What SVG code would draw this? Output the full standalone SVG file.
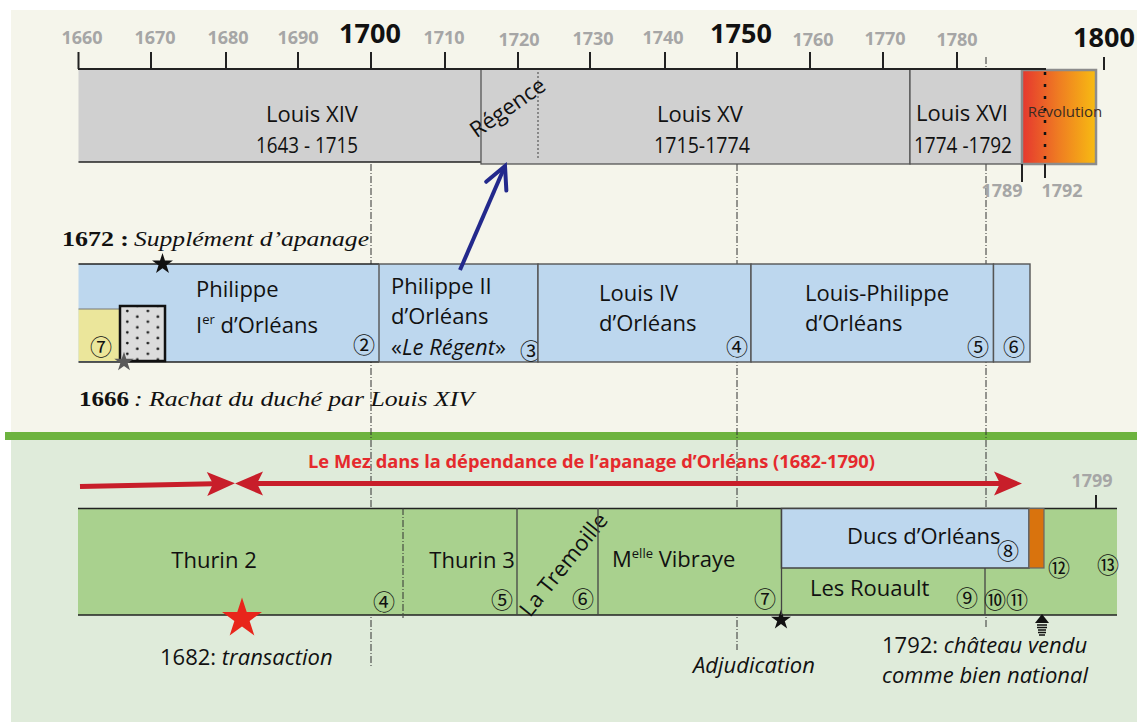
<svg xmlns="http://www.w3.org/2000/svg" width="1137" height="722" viewBox="0 0 1137 722">
<defs>
<style>
.yr{font-family:'Open Sans','Liberation Sans',sans-serif;font-weight:700;font-size:18px;fill:#a6a6a6;text-anchor:middle}
.yb{font-family:'Open Sans','Liberation Sans',sans-serif;font-weight:700;font-size:27px;fill:#111;text-anchor:middle}
.lb{font-family:'Open Sans','Liberation Sans',sans-serif;font-size:22px;fill:#111}
.c{text-anchor:middle}
.it{font-style:italic}
.num{font-family:'Noto Sans CJK JP','DejaVu Sans',sans-serif;font-size:22px;fill:#111;text-anchor:middle}
.serif{font-family:'Liberation Serif','Times New Roman',serif;font-size:22px;fill:#111}
.tick{stroke:#222;stroke-width:2}
.dd{stroke:#333;stroke-width:1;stroke-dasharray:7 2 1 2;fill:none}
.blue{fill:#bdd7ee;stroke:#555;stroke-width:1.4}
.gray{fill:#d0d0d0;stroke:#555;stroke-width:1.3}
.edge{stroke:#222;stroke-width:1.6}
.sep{stroke:#444;stroke-width:1.3}
.red{stroke:#c81e2a;stroke-width:5;fill:none}
</style>
<linearGradient id="rev" x1="0" y1="0" x2="1" y2="0">
<stop offset="0" stop-color="#e5372f"/><stop offset="0.5" stop-color="#ef7d22"/><stop offset="1" stop-color="#f7bc12"/>
</linearGradient>
<pattern id="dots" patternUnits="userSpaceOnUse" x="122" y="308" width="20.6" height="10.7">
<rect width="20.6" height="10.7" fill="#dcdcdc"/>
<circle cx="5.3" cy="3" r="1.3" fill="#111"/><circle cx="15.3" cy="8.7" r="1.3" fill="#111"/>
</pattern>
<path id="star" d="M0,-10 L2.245,-3.09 L9.511,-3.09 L3.633,1.18 L5.878,8.09 L0,3.82 L-5.878,8.09 L-3.633,1.18 L-9.511,-3.09 L-2.245,-3.09 Z"/>
<marker id="rh" markerUnits="userSpaceOnUse" viewBox="0 0 28 24" refX="6" refY="12" markerWidth="28" markerHeight="24" orient="auto-start-reverse" overflow="visible"><path d="M0,0 L28,12 L0,24 L6,12 Z" fill="#c81e2a"/></marker>
<marker id="bh" markerUnits="userSpaceOnUse" viewBox="0 0 30 30" refX="26" refY="15" markerWidth="30" markerHeight="30" orient="auto" overflow="visible"><path d="M4,4 L26,15 L4,26" fill="none" stroke="#23298c" stroke-width="4" stroke-linecap="round"/></marker>
</defs>

<g id="background">
<rect x="0" y="0" width="1137" height="722" fill="#ffffff"/>
<rect x="11" y="10" width="1126" height="424" fill="#f5f5eb"/>
<rect x="11" y="438" width="1126" height="284" fill="#dfebda"/>
<rect x="5" y="432" width="1132" height="8" fill="#6db33f"/>
</g>

<g id="guides">
<line x1="371" y1="164" x2="371" y2="667" class="dd"/>
<line x1="737" y1="164" x2="737" y2="650" class="dd"/>
<line x1="986" y1="57" x2="986" y2="69" class="dd"/>
<line x1="986" y1="164" x2="986" y2="628" class="dd"/>
</g>

<g id="reign-louis14">
<rect x="78.5" y="69" width="402.5" height="93" fill="#d0d0d0"/>
<line x1="78.5" y1="162" x2="481" y2="162" class="edge"/>
<text class="lb c" x="312" y="122">Louis XIV</text>
<text class="lb c" x="307" y="153" textLength="102" lengthAdjust="spacingAndGlyphs">1643 - 1715</text>
</g>
<g id="reign-louis15">
<rect x="481" y="69" width="429" height="95" class="gray"/>
<line x1="538" y1="72" x2="538" y2="160" stroke="#888" stroke-width="2" stroke-dasharray="2 2"/>
<text class="lb c" transform="translate(508,108) rotate(-35)" x="0" y="7">Régence</text>
<text class="lb c" x="700" y="122">Louis XV</text>
<text class="lb c" x="702" y="153" textLength="96" lengthAdjust="spacingAndGlyphs">1715-1774</text>
</g>
<g id="reign-louis16">
<rect x="910" y="69" width="112" height="95" class="gray"/>
<text class="lb c" x="962" y="121">Louis XVI</text>
<text class="lb c" x="963" y="153" textLength="98" lengthAdjust="spacingAndGlyphs">1774 -1792</text>
</g>
<g id="revolution">
<rect x="1022" y="70" width="74" height="94" fill="url(#rev)" stroke="#8c8c8c" stroke-width="2.5"/>
<line x1="1045" y1="72" x2="1045" y2="160" stroke="#111" stroke-width="2.5" stroke-dasharray="3 9"/>
<text x="1065" y="117" font-family="'Open Sans','Liberation Sans',sans-serif" font-size="15" fill="#3b2b22" text-anchor="middle">Révolution</text>
<line x1="1022" y1="164" x2="1022" y2="182" class="tick"/>
<line x1="1045" y1="164" x2="1045" y2="178" class="tick"/>
<text class="yr" x="1002" y="197" font-size="17">1789</text>
<text class="yr" x="1062" y="197" font-size="17">1792</text>
</g>

<g id="axis">
<line x1="78" y1="69" x2="1046" y2="69" stroke="#222" stroke-width="2"/>
<line x1="78.5" y1="52" x2="78.5" y2="69" class="tick"/>
<line x1="151" y1="52" x2="151" y2="69" class="tick"/>
<line x1="226" y1="52" x2="226" y2="69" class="tick"/>
<line x1="298" y1="52" x2="298" y2="69" class="tick"/>
<line x1="371" y1="52" x2="371" y2="69" class="tick"/>
<line x1="445" y1="52" x2="445" y2="69" class="tick"/>
<line x1="518" y1="52" x2="518" y2="69" class="tick"/>
<line x1="590" y1="52" x2="590" y2="69" class="tick"/>
<line x1="665" y1="52" x2="665" y2="69" class="tick"/>
<line x1="737" y1="52" x2="737" y2="69" class="tick"/>
<line x1="810" y1="52" x2="810" y2="69" class="tick"/>
<line x1="883" y1="52" x2="883" y2="69" class="tick"/>
<line x1="957" y1="52" x2="957" y2="69" class="tick"/>
<line x1="1104" y1="57" x2="1104" y2="70" class="tick"/>
<text class="yr" x="82" y="44">1660</text>
<text class="yr" x="155" y="44">1670</text>
<text class="yr" x="228" y="44">1680</text>
<text class="yr" x="298" y="44">1690</text>
<text class="yb" x="370" y="43">1700</text>
<text class="yr" x="444" y="44">1710</text>
<text class="yr" x="519" y="46">1720</text>
<text class="yr" x="593" y="45">1730</text>
<text class="yr" x="663" y="44">1740</text>
<text class="yb" x="741" y="43">1750</text>
<text class="yr" x="813" y="46">1760</text>
<text class="yr" x="885" y="45">1770</text>
<text class="yr" x="957" y="46">1780</text>
<text class="yb" x="1104" y="47">1800</text>
</g>

<g id="note-1672">
<text class="serif" x="62" y="246" font-weight="700" textLength="67" lengthAdjust="spacingAndGlyphs">1672 :</text>
<text class="serif it" x="134" y="246" textLength="235" lengthAdjust="spacingAndGlyphs">Supplément d’apanage</text>
</g>
<g id="note-1666">
<text class="serif" x="79" y="406" font-weight="700" textLength="50" lengthAdjust="spacingAndGlyphs">1666</text>
<text class="serif it" x="134" y="406" textLength="340" lengthAdjust="spacingAndGlyphs">: Rachat du duché par Louis XIV</text>
</g>

<g id="duc-philippe1">
<rect x="78.5" y="264" width="300.5" height="98" fill="#bdd7ee"/>
<line x1="78.5" y1="264" x2="379" y2="264" class="edge"/>
<line x1="78.5" y1="362" x2="379" y2="362" class="edge"/>
<rect x="78.5" y="309" width="41.5" height="52" fill="#ebe69b"/>
<line x1="78.5" y1="309" x2="120" y2="309" stroke="#777" stroke-width="1"/>
<rect x="120" y="306" width="45" height="55" fill="url(#dots)" stroke="#111" stroke-width="2.5"/>
<text class="num" x="101" y="354.5">⑦</text>
<text class="lb" x="196" y="297">Philippe</text>
<text class="lb" x="196" y="333">I<tspan font-size="13" dy="-9">er</tspan><tspan dy="9"> d’Orléans</tspan></text>
<text class="num" x="364" y="352.5">②</text>
<use href="#star" transform="translate(162.5,264) scale(1.1)" fill="#111"/>
<use href="#star" transform="translate(124,362) scale(1.02)" fill="#5a5a5a"/>
</g>
<g id="duc-philippe2">
<rect x="379" y="264" width="159" height="98" class="blue"/>
<text class="lb" x="391" y="294">Philippe II</text>
<text class="lb" x="391" y="324">d’Orléans</text>
<text class="lb" x="391" y="355">«<tspan class="it">Le Régent</tspan>»</text>
<text class="num" x="531" y="358.5">③</text>
</g>
<g id="duc-louis4">
<rect x="538" y="264" width="213" height="98" class="blue"/>
<text class="lb" x="599" y="301">Louis IV</text>
<text class="lb" x="599" y="331">d’Orléans</text>
<text class="num" x="737" y="354.5">④</text>
</g>
<g id="duc-louisphilippe">
<rect x="751" y="264" width="242.5" height="98" class="blue"/>
<text class="lb" x="805" y="301">Louis-Philippe</text>
<text class="lb" x="805" y="331">d’Orléans</text>
<text class="num" x="978" y="354.5">⑤</text>
</g>
<g id="duc-6">
<rect x="993.5" y="264" width="36.5" height="98" class="blue"/>
<text class="num" x="1014" y="354.5">⑥</text>
</g>

<g id="connectors">
<line x1="460" y1="270" x2="505" y2="166" stroke="#23298c" stroke-width="4" marker-end="url(#bh)"/>
<path d="M80,486.5 L213,483.8" class="red" marker-end="url(#rh)"/>
<path d="M257,483.5 L1000,483.5" class="red" marker-start="url(#rh)" marker-end="url(#rh)"/>
</g>

<g id="title-apanage">
<text x="308" y="468" font-family="'Open Sans','Liberation Sans',sans-serif" font-weight="700" font-size="18" fill="#e52a2d" textLength="567" lengthAdjust="spacingAndGlyphs">Le Mez dans la dépendance de l’apanage d’Orléans  (1682-1790)</text>
</g>

<g id="owners-bar">
<rect x="78" y="508" width="1039" height="107" fill="#a9d18e"/>
<line x1="78" y1="508.5" x2="1117" y2="508.5" class="edge"/>
<line x1="78" y1="615" x2="1117" y2="615" class="edge"/>
<line x1="1096" y1="495" x2="1096" y2="508" class="tick"/>
<text class="yr" x="1092" y="487">1799</text>
</g>
<g id="owner-thurin2">
<text class="lb c" x="214" y="568">Thurin 2</text>
<text class="num" x="384" y="609.5">④</text>
<use href="#star" transform="translate(242,618.5) scale(2.1)" fill="#e8251b"/>
<text class="lb" x="160" y="665">1682: <tspan class="it">transaction</tspan></text>
</g>
<g id="owner-thurin3">
<line x1="403" y1="508" x2="403" y2="618" class="dd" stroke="#222"/>
<text class="lb c" x="472" y="568">Thurin 3</text>
<text class="num" x="502" y="607.5">⑤</text>
</g>
<g id="owner-tremoille">
<line x1="517" y1="508" x2="517" y2="615" class="sep"/>
<text class="lb c" transform="translate(564,565) rotate(-51)" x="0" y="7">La Tremoille</text>
<text class="num" x="583" y="606.5">⑥</text>
</g>
<g id="owner-vibraye">
<line x1="598" y1="508" x2="598" y2="615" class="sep"/>
<text class="lb" x="612" y="567">M<tspan font-size="13" dy="-9">elle</tspan><tspan dy="9"> Vibraye</tspan></text>
<text class="num" x="765" y="607">⑦</text>
<use href="#star" transform="translate(781,620) scale(1.05)" fill="#111"/>
<text class="lb it" x="693" y="673">Adjudication</text>
</g>
<g id="owner-ducs">
<line x1="781.5" y1="508" x2="781.5" y2="615" class="sep"/>
<rect x="781.5" y="508.5" width="247.5" height="59.5" fill="#bdd7ee" stroke="#444" stroke-width="1.5"/>
<text class="lb" x="847" y="544">Ducs d’Orléans</text>
<text class="num" x="1008" y="558.5">⑧</text>
<rect x="1029" y="508.5" width="15" height="59.5" fill="#d9730d" stroke="#666" stroke-width="1.2"/>
</g>
<g id="owner-rouault">
<text class="lb" x="810" y="596">Les Rouault</text>
<text class="num" x="967" y="605.5">⑨</text>
<line x1="985" y1="568" x2="985" y2="615" class="sep"/>
</g>
<g id="owner-later">
<text class="num" x="1006" y="607.5">⑩⑪</text>
<text class="num" x="1059" y="575.5">⑫</text>
<text class="num" x="1108" y="573">⑬</text>
<path d="M1035,623 L1042,614 L1049,623 Z" fill="#111"/>
<path d="M1037,625 H1047 M1037,627.5 H1047 M1038,630 H1046 M1038,632.5 H1046 M1039,635 H1045" stroke="#111" stroke-width="1.3"/>
<text class="lb" x="882" y="653">1792: <tspan class="it">château vendu</tspan></text>
<text class="lb it" x="882" y="683">comme bien national</text>
</g>
</svg>
